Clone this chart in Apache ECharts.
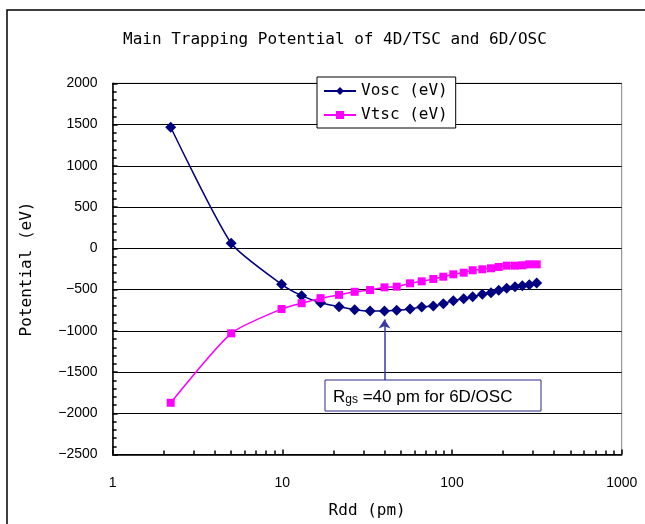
<!DOCTYPE html>
<html><head><meta charset="utf-8">
<script src="https://cdn.jsdelivr.net/npm/echarts@6/dist/echarts.min.js"></script>
<style>html,body{margin:0;padding:0;background:#fff}#c{width:645px;height:524px}</style>
</head><body><div id="c"></div>
<script>
// Rdd (pm) — x values shared by both series
const rdd = [2.2, 5, 9.9, 13, 16.8, 21.6, 26.7, 32.9, 40, 47.2, 56.6, 66.3, 77.6, 88.9, 101.8, 117.2, 132.4, 150.9, 169.8, 188.5, 210.1, 235.1, 259.7, 285.5, 315.6];
const vosc = [1467, 61, -436, -574, -659, -707, -744, -760, -760, -751, -735, -711, -699, -671, -634, -610, -586, -558, -538, -509, -485, -465, -453, -441, -420];
const vtsc = [-1872, -1030, -735, -665, -604, -564, -527, -506, -473, -465, -424, -400, -372, -344, -315, -295, -266, -254, -242, -226, -210, -210, -206, -194, -194];
const seriesNames = ['Vosc (eV)', 'Vtsc (eV)'];
const titleText = 'Main Trapping Potential of 4D/TSC and 6D/OSC';
const xName = 'Rdd (pm)';
const yName = 'Potential (eV)';
const yMin = -2500, yMax = 2000, yStep = 500;
const xMin = 1, xMax = 1000;
const rgs = 40;            // annotated Rdd
const arrowFrom = -1596, arrowTo = -862;

const gothic = 'DejaVu Sans Mono';
const arial = 'Liberation Sans';

const chart = echarts.init(document.getElementById('c'), null, {renderer: 'canvas'});
const pts = (ys) => rdd.map((x, i) => [x, ys[i]]);
const fmtY = v => v < 0 ? '\u2212' + (-v) : String(v);

chart.setOption({
  animation: false,
  backgroundColor: '#fff',
  title: {
    text: titleText, left: 118, top: 27,
    textStyle: {fontFamily: gothic, fontSize: 16, fontWeight: 'normal', color: '#000'}
  },
  legend: {
    orient: 'vertical', left: 317, top: 77,
    padding: [6, 8, 5, 6], itemGap: 8, itemWidth: 32, itemHeight: 10,
    borderColor: '#000', borderWidth: 1, backgroundColor: '#fff',
    textStyle: {fontFamily: gothic, fontSize: 16, color: '#000'},
    data: seriesNames
  },
  grid: {left: 112.6, right: 23.3, top: 83.3, bottom: 69.4, show: true, borderColor: '#808080', borderWidth: 1},
  xAxis: {
    type: 'log', logBase: 10, min: xMin, max: xMax,
    name: xName, nameLocation: 'middle', nameGap: 48,
    nameTextStyle: {fontFamily: gothic, fontSize: 16, color: '#000'},
    axisLine: {onZero: false, lineStyle: {color: '#000', width: 1.5}},
    axisTick: {inside: true, length: 5, lineStyle: {color: '#000', width: 1.5}},
    minorTick: {show: true, splitNumber: 9, length: 4, lineStyle: {color: '#000', width: 1.5}},
    splitLine: {show: false},
    axisLabel: {fontFamily: arial, fontSize: 14, color: '#000', margin: 22, formatter: v => String(v)}
  },
  yAxis: {
    type: 'value', min: yMin, max: yMax, interval: yStep,
    name: yName, nameLocation: 'middle', nameGap: 78, nameRotate: 90,
    nameTextStyle: {fontFamily: gothic, fontSize: 16, color: '#000'},
    axisLine: {show: true, onZero: false, lineStyle: {color: '#000', width: 1.5}},
    axisTick: {show: true, inside: true, length: 5, lineStyle: {color: '#000', width: 1.5}},
    minorTick: {show: true, splitNumber: 5, length: 4, lineStyle: {color: '#000', width: 1.5}},
    splitLine: {show: true, lineStyle: {color: '#000', width: 1}},
    axisLabel: {fontFamily: arial, fontSize: 14, color: '#000', margin: 15, formatter: fmtY}
  },
  series: [
    {
      name: seriesNames[0], type: 'line', data: pts(vosc), smooth: 0.2,
      symbol: 'diamond', symbolSize: 11,
      lineStyle: {color: '#000080', width: 1.5},
      itemStyle: {color: '#000080'},
      markLine: {
        silent: true, symbol: ['none', 'arrow'], symbolSize: 9,
        label: {show: false},
        lineStyle: {color: '#3a3aa8', width: 1.5, type: 'solid'},
        data: [[{coord: [rgs, arrowFrom]}, {coord: [rgs, arrowTo]}]]
      }
    },
    {
      name: seriesNames[1], type: 'line', data: pts(vtsc), smooth: 0.2,
      symbol: 'rect', symbolSize: 8,
      lineStyle: {color: '#ff00ff', width: 1.5},
      itemStyle: {color: '#ff00ff'}
    }
  ],
  graphic: [
    {type: 'rect', silent: true, z: -10, shape: {x: 7, y: 10, width: 700, height: 600},
     style: {fill: 'none', stroke: '#000', lineWidth: 1.5}},
    {type: 'rect', silent: true, z: 100, shape: {x: 325, y: 380, width: 216, height: 31},
     style: {fill: '#fff', stroke: '#2a2a8a', lineWidth: 1}},
    {type: 'text', silent: true, z: 101, x: 333, y: 396,
     style: {text: '{a|R}{b|gs}{a| =40 pm for 6D/OSC}', verticalAlign: 'middle',
       rich: {a: {fontFamily: arial, fontSize: 17, fill: '#000', verticalAlign: 'bottom', lineHeight: 20},
              b: {fontFamily: arial, fontSize: 12, fill: '#000', verticalAlign: 'bottom', lineHeight: 20}}}}
  ]
});
</script></body></html>
